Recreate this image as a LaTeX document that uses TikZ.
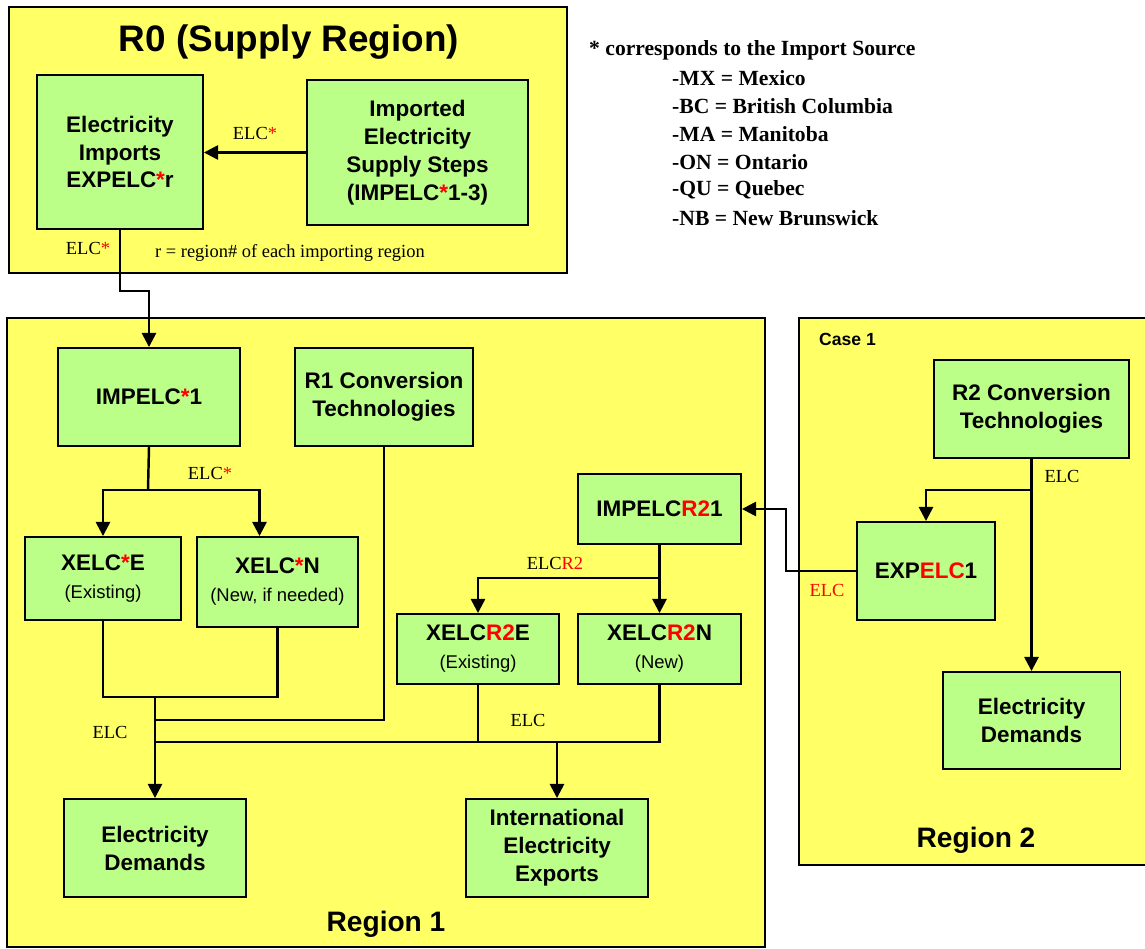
\documentclass[tikz,border=0pt]{standalone}
\usepackage{fontspec}
\setmainfont{Liberation Serif}
\setsansfont{Liberation Sans}
\usepackage{xcolor}
\usetikzlibrary{arrows.meta,calc,positioning}

\definecolor{panelyellow}{RGB}{255,255,102}
\definecolor{boxgreen}{RGB}{187,255,136}
\newcommand{\redstar}{\textcolor{red}{*}}
\newcommand{\subline}[1]{{\mdseries\fontsize{10.5}{13}\selectfont #1}}

\tikzset{
  panel/.style={draw,line width=1.2pt,fill=panelyellow},
  box/.style={draw,line width=1.1pt,fill=boxgreen,align=center,inner sep=1pt,
    font=\sffamily\bfseries\fontsize{12.8}{15.9}\selectfont},
  link/.style={line width=1.4pt},
  flow/.style={link,-{Triangle[length=8pt,width=8pt]}},
  tag/.style={inner sep=1pt,font=\fontsize{10.5}{12}\selectfont},
  heading/.style={font=\sffamily\bfseries\fontsize{16}{18}\selectfont},
  legend/.style={anchor=west,font=\bfseries\fontsize{12.3}{15}\selectfont},
}

\begin{document}
\begin{tikzpicture}[x=0.02cm,y=-0.02cm]
  \useasboundingbox (0,0) rectangle (1145,949);

  % regions
  \draw[panel] (9,7) rectangle (567,273);
  \draw[panel] (7,318) rectangle (765,947);
  \draw[panel] (799,318) rectangle (1150,865);

  \node[font=\sffamily\bfseries\fontsize{21}{23}\selectfont] (r0title) at (289,42) {R0 (Supply Region)};
  \node[heading] (r1title) at (386,924) {Region 1};
  \node[heading] (r2title) at (976,840) {Region 2};
  \node[font=\sffamily\bfseries\fontsize{10}{12}\selectfont,anchor=west] (case) at (813,339) {Case 1};

  % legend
  \node[legend] (src0) at (583,50) {* corresponds to the Import Source};
  \foreach \i/\y/\t in {1/78/-MX = Mexico,2/106/-BC = British Columbia,3/134/-MA = Manitoba,
                        4/162/-ON = Ontario,5/190/-QU = Quebec,6/218/-NB = New Brunswick}
    \node[legend] (src\i) at (666,\y) {\t};

  % R0 boxes
  \node[box,minimum width=3.32cm,minimum height=3.08cm] (expelc) at (120,152)
    {Electricity\\Imports\\EXPELC\redstar r};
  \node[box,minimum width=4.42cm,minimum height=2.90cm] (impsup) at (417.5,152.5)
    {Imported\\Electricity\\Supply Steps\\(IMPELC\redstar 1-3)};

  % region 1 boxes
  \node[box,minimum width=3.64cm,minimum height=1.96cm] (impelc1) at (149,397) {IMPELC\redstar 1};
  \node[box,minimum width=3.56cm,minimum height=1.96cm] (r1conv) at (384,397) {R1 Conversion\\Technologies};
  \node[box,minimum width=3.12cm,minimum height=1.66cm] (xelcE) at (103,578.5)
    {XELC\redstar E\\\subline{(Existing)}};
  \node[box,minimum width=3.22cm,minimum height=1.80cm] (xelcN) at (277.5,582)
    {XELC\redstar N\\\subline{(New, if needed)}};
  \node[box,minimum width=3.26cm,minimum height=1.40cm] (impr2) at (659.5,509)
    {IMPELC\textcolor{red}{R2}1};
  \node[box,minimum width=3.24cm,minimum height=1.40cm] (xr2E) at (478,649)
    {XELC\textcolor{red}{R2}E\\\subline{(Existing)}};
  \node[box,minimum width=3.26cm,minimum height=1.40cm] (xr2N) at (659.5,649)
    {XELC\textcolor{red}{R2}N\\\subline{(New)}};
  \node[box,minimum width=3.64cm,minimum height=1.96cm] (dem1) at (155,848) {Electricity\\Demands};
  \node[box,minimum width=3.64cm,minimum height=1.96cm] (intexp) at (557,848)
    {International\\Electricity\\Exports};

  % region 2 boxes
  \node[box,minimum width=3.90cm,minimum height=1.96cm] (r2conv) at (1031.5,409) {R2 Conversion\\Technologies};
  \node[box,minimum width=2.76cm,minimum height=1.96cm] (exp1) at (926,571) {EXP\textcolor{red}{ELC}1};
  \node[box,minimum width=3.56cm,minimum height=1.94cm] (dem2) at (1031.5,720.5) {Electricity\\Demands};

  % junctions
  \coordinate (b1) at (148,490);
  \coordinate (m1) at (155,697);
  \coordinate (m2) at (155,720);
  \coordinate (m3) at (155,742);
  \coordinate (b2) at (659.5,578);
  \coordinate (b3) at (1031.5,490);

  % R0 flows
  \draw[flow] (impsup.west) -- (impsup.west -| expelc.east);
  \draw[flow] (expelc.south) -- ++(0,61) -| (impelc1.north);
  \node[tag] (l1) at (255,133) {ELC\redstar};
  \node[tag] (l2) at (88,248) {ELC\redstar};
  \node[tag,anchor=west] (rnote) at (153,253) {r = region\# of each importing region};

  % region 1 flows
  \draw[link] (impelc1.south) -- (b1);
  \draw[flow] (b1) -| (xelcE.north);
  \draw[flow] (b1) -| ([xshift=-0.36cm]xelcN.north);
  \node[tag] (l3) at (210,473) {ELC\redstar};
  \draw[link] (xelcE.south) -- (xelcE.south |- m1) -| (xelcN.south);
  \draw[link] (r1conv.south) |- (m2);
  \draw[flow] (m1) -- (dem1.north);
  \draw[link] (m3) -| (xr2N.south);
  \draw[link] (xr2E.south) -- (xr2E.south |- m3);
  \draw[flow] (intexp.north |- m3) -- (intexp.north);
  \node[tag] (l4) at (110,732) {ELC};
  \node[tag] (l5) at (528,720) {ELC};
  \draw[link] (impr2.south) -- (b2);
  \draw[flow] (b2) -| (xr2E.north);
  \draw[flow] (b2) -- (xr2N.north);
  \node[tag] (l6) at (555,563) {ELC\textcolor{red}{R2}};

  % region 2 flows
  \draw[flow] (exp1.west) -- ++(-70,0) |- (impr2.east);
  \node[tag,text=red] (l7) at (827,590) {ELC};
  \draw[flow] (r2conv.south) -- (dem2.north);
  \draw[flow] (b3) -| (exp1.north);
  \node[tag] (l8) at (1062,476) {ELC};
\end{tikzpicture}
\end{document}
